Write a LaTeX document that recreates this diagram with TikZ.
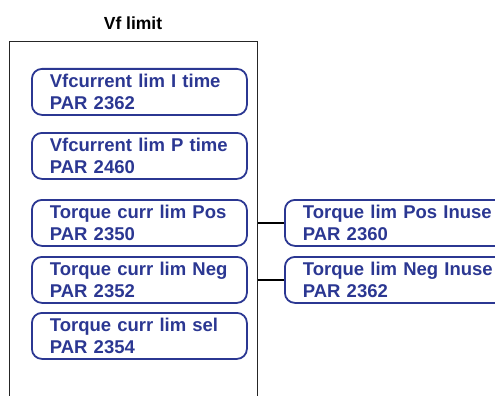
\documentclass[tikz,border=0pt]{standalone}
\usepackage{fontspec}
\setsansfont{Liberation Sans}
\definecolor{parblue}{RGB}{43,55,146}
\tikzset{
    parbox/.style={draw=parblue, line width=1.8pt, rounded corners=10pt,
        text=parblue, font=\sffamily\bfseries\fontsize{18.5}{22}\selectfont,
        align=left, text width=179pt, inner xsep=18pt, inner ysep=0pt,
        minimum height=46pt, anchor=north west},
    frame/.style={draw=black!85, line width=0.9pt, inner sep=0pt, anchor=north west}
}
\begin{document}
\begin{tikzpicture}[x=1pt,y=-1pt]
        \useasboundingbox (0,0) rectangle (495,396);
        \clip (0,0) rectangle (495,396);
        % frame
            \node[frame, minimum width=248pt, minimum height=380pt] (vflim) at (9,41) {};
            \node[font=\sffamily\bfseries\fontsize{17.5}{21}\selectfont, anchor=base] (title) at (133,30) {Vf limit};
        % parameters
            \foreach \n/\y/\t/\p in {ilim/68/Vfcurrent lim I time/2362,
                                    plim/132/Vfcurrent lim P time/2460,
                                    tpos/199/Torque curr lim Pos/2350,
                                    tneg/256/Torque curr lim Neg/2352,
                                    tsel/312/Torque curr lim sel/2354}{
                \node[parbox] (\n) at (31,\y) {\t\\PAR \p};
            }
        % in use
            \node[parbox, text width=200pt] (tposuse) at (284,199) {Torque lim Pos Inuse\\PAR 2360};
            \node[parbox, text width=200pt] (tneguse) at (284,256) {Torque lim Neg Inuse\\PAR 2362};
            \draw[line width=1.8pt] (tposuse.west) -- (tposuse.west -| vflim.east);
            \draw[line width=1.8pt] (tneguse.west) -- (tneguse.west -| vflim.east);
        \end{tikzpicture}
\end{document}
